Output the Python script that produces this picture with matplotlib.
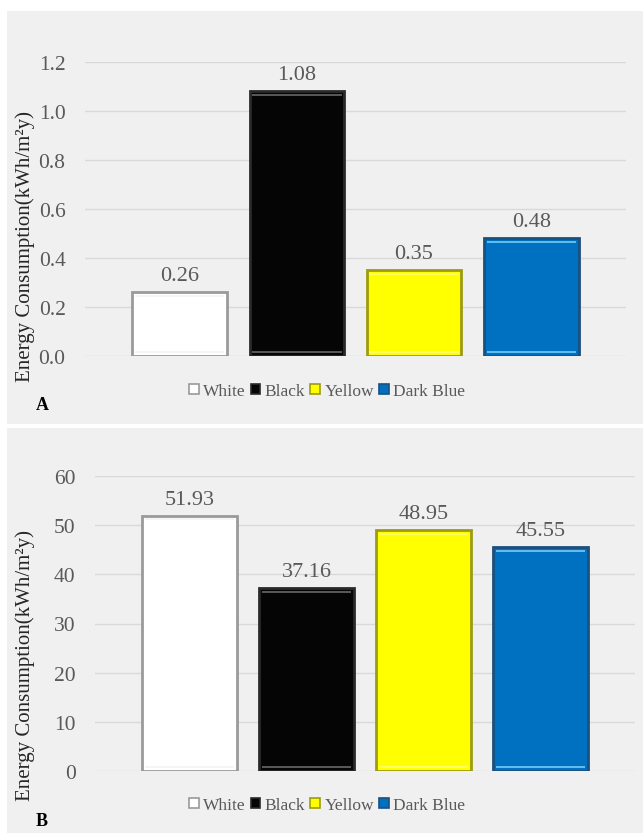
import matplotlib
matplotlib.use("Agg")
import matplotlib.pyplot as plt
from matplotlib.patches import Rectangle

plt.rc('font', family='Liberation Serif')

colours_names = ["White", "Black", "Yellow", "Dark Blue"]
values_a = [0.26, 1.08, 0.35, 0.48]
values_b = [51.93, 37.16, 48.95, 45.55]
ticks_a = [0.0, 0.2, 0.4, 0.6, 0.8, 1.0, 1.2]
ticks_b = [0, 10, 20, 30, 40, 50, 60]
ticklabels_a = ["0.0", "0.2", "0.4", "0.6", "0.8", "1.0", "1.2"]
ticklabels_b = ["0", "10", "20", "30", "40", "50", "60"]

fills = ["#ffffff", "#050505", "#ffff00", "#0070c0"]
edges = ["#9a9a9a", "#2a2a2a", "#9c9c10", "#1d4f7c"]
shines = ["#f4f4f4", "#606060", "#ffff70", "#6cc4f4"]

W, H = 643, 837
BG = "#f0f0f0"
TXT = "#595959"

fig = plt.figure(figsize=(W/100, H/100), dpi=100, facecolor="white")

# panel backgrounds (pixels from top-left)
def px_rect(x0, y0, x1, y1):
    return Rectangle((x0/W, 1 - y1/H), (x1 - x0)/W, (y1 - y0)/H,
                     transform=fig.transFigure, facecolor=BG, edgecolor="none", zorder=-5)

fig.patches.append(px_rect(7, 12, 643, 425))
fig.patches.append(px_rect(7, 429, 643, 834))


def panel(left, top, bottom, right, vals, ticks, labels, letter, leg_y, letter_y, ylab_y):
    ax = fig.add_axes([left/W, 1 - bottom/H, (right - left)/W, (bottom - top)/H])
    ax.set_facecolor("none")
    ax.set_zorder(2)
    x = list(range(len(vals)))
    bw = 0.81
    ax.bar(x, vals, width=bw, color=fills, edgecolor=edges, linewidth=2.0, zorder=3)
    # bevel-ish highlight lines
    ymax = ticks[-1]
    for i, v in enumerate(vals):
        ax.hlines(v - ymax*0.012, i - bw/2*0.94, i + bw/2*0.94, colors=shines[i], lw=1.3, zorder=4)
        ax.hlines(ymax*0.012, i - bw/2*0.94, i + bw/2*0.94, colors=shines[i], lw=1.3, zorder=4)
        ax.annotate("{:.2f}".format(v), (i, v), xytext=(0, 5), textcoords="offset points",
                    ha="center", va="bottom", fontsize=16, color=TXT)
    ax.set_xlim(-0.81, 3.81)
    ax.set_ylim(ticks[0], ticks[-1])
    ax.set_yticks(ticks)
    ax.set_yticklabels(labels)
    ax.tick_params(axis="y", length=0, labelsize=15.5, labelcolor=TXT, pad=14)
    ax.set_xticks([])
    ax.grid(axis="y", color="#d9d9d9", lw=1.0, zorder=0)
    for s in ax.spines.values():
        s.set_visible(False)
    handles = [Rectangle((0, 0), 1, 1, facecolor=fills[i], edgecolor=edges[i], lw=1.2)
               for i in range(4)]
    fig.legend(handles, colours_names, loc="center", bbox_to_anchor=(327/W, 1 - leg_y/H),
               ncol=4, frameon=False, fontsize=12.5, labelcolor=TXT, handlelength=0.55,
               handleheight=0.55, handletextpad=0.25, columnspacing=0.3, borderpad=0)
    fig.text(42/W, 1 - letter_y/H, letter, fontsize=13, fontweight="bold", ha="center", va="center")
    fig.text(25/W, 1 - ylab_y/H, "Energy Consumption(kWh/m²y)", rotation=90,
             fontsize=15, color="#262626", ha="center", va="center")
    return ax


panel(85, 63, 357, 626, values_a, ticks_a, ticklabels_a, "A", 392, 406, 246)
panel(95, 477, 772, 635, values_b, ticks_b, ticklabels_b, "B", 806, 822, 666)

fig.savefig("out.png", dpi=100, facecolor="white")
